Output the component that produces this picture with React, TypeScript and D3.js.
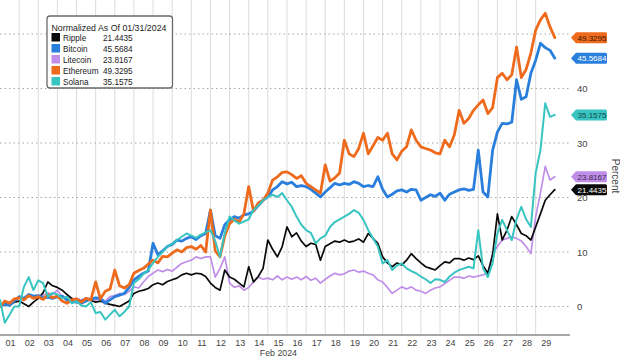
import React from "react";
import * as d3 from "d3";

const W = 620;
const H = 357;

// Series (percent change, normalized as of 01/31/2024), one value every 6 hours from Feb 1 00:00
const ethereum = [
  0, 1.0, 0.6, 1.4, 1.6, 1.2, 2.0, 1.5, 1.8, 1.3, 2.2, 1.6, 1.9, 1.0, 0.6, 1.2,
  1.4, 0.8, 1.5, 1.2, 4.5, 1.4, 2.8, 3.2, 6.7, 3.8, 3.4, 4.0, 6.1, 6.6, 7.0, 7.8,
  8.5, 8.0, 9.2, 9.1, 9.8, 10.4, 10.0, 10.8, 11.0, 10.5, 11.2, 10.0, 17.7, 10.2, 9.1, 13.0,
  15.2, 16.0, 15.5, 17.0, 22.0, 17.5, 19.0, 19.5, 20.8, 23.2, 23.8, 24.6, 24.7, 24.2, 23.5, 24.0,
  22.6, 22.0, 21.4, 20.8, 26.0, 23.0, 23.6, 24.5, 30.5, 28.0, 27.5, 29.0, 31.8, 28.0, 29.5, 31.0,
  30.5, 31.8, 28.0, 26.9, 28.5, 29.3, 32.4, 30.5, 29.3, 29.0, 28.7, 28.2, 28.0, 30.5, 29.3, 31.5,
  36.0, 33.6, 34.5, 36.0, 37.0, 37.9, 35.4, 36.5, 42.0, 42.8, 41.6, 42.5, 47.6, 42.0, 43.5, 46.5,
  50.7, 52.6, 53.8, 51.3, 49.3295,
];
const bitcoin = [
  0, 0.4, 0.2, 1.0, 1.8, 1.5, 2.2, 1.9, 2.0, 1.6, 1.7, 1.5, 1.8, 1.9, 1.2, 0.9,
  0.8, 0.6, 1.0, 1.4, 1.6, 1.5, 0.6, 1.2, 1.8, 2.1, 2.4, 3.5, 4.9, 5.5, 6.1, 6.5,
  11.6, 9.5, 10.2, 11.0, 11.4, 12.2, 12.0, 12.5, 12.8, 12.3, 13.0, 13.4, 17.7, 13.0, 12.5, 15.0,
  15.9, 16.5, 16.2, 16.8, 17.0, 17.5, 18.5, 19.5, 20.1, 21.4, 22.0, 22.9, 22.5, 22.8, 22.0, 22.2,
  22.0, 21.5, 20.8, 20.1, 21.0, 21.8, 22.6, 22.3, 22.6, 22.4, 22.9, 22.6, 22.0, 22.2, 22.0, 23.8,
  21.5, 20.1, 20.6, 21.2, 21.4, 21.0, 21.5, 21.4, 19.5, 20.0, 20.5, 20.2, 20.8, 19.5, 20.6, 21.0,
  21.4, 21.6, 21.3, 21.5, 28.7, 21.0, 20.1, 28.7, 32.0, 33.6, 33.5, 33.8, 41.6, 38.0, 38.5, 42.8,
  45.2, 48.3, 47.5, 47.0, 45.5684,
];
const solana = [
  1.2, -3.0, -1.5, 0, 0, 3.6, 5.4, 3.0, 4.8, 4.3, 1.8, 2.5, 2.2, 1.5, 1.8, 0.6,
  1.0, 0.2, 0, 0.8, -1.2, -1.0, -2.4, -1.5, -0.6, -1.8, -1.0, 0, 4.3, 5.0, 6.0, 6.7,
  8.0, 9.1, 10.0, 11.0, 11.5, 12.2, 12.8, 13.4, 13.0, 12.6, 13.2, 13.6, 14.0, 12.0, 9.1, 13.5,
  16.5, 15.8, 15.2, 15.6, 16.0, 17.7, 18.5, 19.5, 20.1, 20.5, 20.1, 20.8, 19.5, 18.3, 16.5, 15.0,
  14.0, 13.5, 11.6, 12.5, 13.0, 14.6, 15.5, 16.0, 16.5, 17.0, 17.7, 17.2, 15.9, 14.0, 12.5, 11.0,
  7.9, 8.5, 6.7, 7.5, 7.9, 7.0, 6.5, 6.1, 5.5, 5.0, 4.3, 5.0, 4.9, 4.5, 5.5, 6.2,
  6.7, 7.0, 7.3, 7.0, 14.0, 7.0, 5.4, 8.0, 13.4, 15.9, 14.0, 12.2, 16.0, 18.3, 16.0, 14.6,
  24.5, 28.7, 37.3, 34.8, 35.1575,
];
const ripple = [
  0, 0.5, 0.3, 0.8, 1.0, 0.5, 0, 0.8, 1.5, 2.5, 4.5, 3.8, 3.5, 3.0, 2.2, 1.5,
  1.2, 1.0, 1.4, 1.1, 0.8, 1.0, 0.6, 0.4, 0.2, 0, 0.5, 1.0, 2.4, 2.8, 3.0, 3.3,
  4.0, 4.3, 4.0, 4.6, 4.9, 5.2, 5.8, 6.1, 5.8, 6.1, 6.0, 5.5, 4.3, 3.5, 3.0, 6.7,
  5.4, 5.0, 4.3, 3.6, 7.3, 4.5, 5.5, 7.0, 12.2, 10.5, 9.1, 11.0, 14.6, 12.8, 13.5, 12.0,
  11.0, 11.6, 11.4, 8.5, 11.0, 11.5, 12.0, 11.8, 12.2, 11.8, 12.0, 12.4, 11.8, 13.4, 12.5, 11.6,
  9.1, 8.0, 7.3, 8.0, 7.6, 8.5, 9.7, 8.8, 8.0, 7.3, 7.0, 6.7, 7.5, 8.2, 8.0, 8.8,
  8.8, 8.5, 8.9, 8.6, 9.3, 7.5, 6.1, 9.5, 17.0, 12.2, 14.0, 16.5, 15.0, 13.4, 13.0, 12.2,
  14.6, 17.0, 19.5, 20.5, 21.4435,
];
const litecoin = [
  0, 0.8, 0.5, 1.2, 1.7, 1.4, 2.0, 1.6, 1.5, 2.0, 2.5, 2.2, 3.0, 1.8, 1.6, 1.3,
  1.5, 1.2, 1.6, 1.4, 1.2, 1.4, 1.0, 1.8, 2.0, 2.4, 2.2, 2.8, 3.6, 3.4, 4.5, 5.5,
  6.1, 6.7, 6.4, 6.8, 6.5, 7.2, 7.9, 8.2, 8.5, 9.1, 8.8, 9.1, 9.1, 5.4, 7.0, 9.1,
  4.3, 3.5, 3.8, 3.0, 3.5, 4.5, 5.4, 5.0, 5.2, 4.9, 5.6, 4.9, 5.4, 5.0, 5.4, 4.9,
  5.5, 4.8, 5.2, 4.3, 5.0, 5.6, 6.1, 5.8, 6.0, 6.5, 6.7, 6.3, 6.5, 6.1, 5.8, 4.9,
  4.5, 3.5, 2.4, 3.0, 3.6, 3.2, 3.6, 3.0, 2.8, 2.4, 3.0, 3.4, 3.6, 4.2, 4.8, 5.4,
  5.4, 5.2, 5.6, 5.4, 5.6, 5.8, 6.1, 9.7, 11.0, 12.2, 12.5, 12.8, 12.5, 12.0, 11.0, 9.7,
  16.5, 20.8, 25.7, 23.2, 23.8167,
];

const legendTitle = "Normalized As Of 01/31/2024";
const seriesNames = ["Ripple", "Bitcoin", "Litecoin", "Ethereum", "Solana"];
const seriesValues = [ripple, bitcoin, litecoin, ethereum, solana];
const lastLabels = ["21.4435", "45.5684", "23.8167", "49.3295", "35.1575"];

const dayLabels = [
  "01", "02", "03", "04", "05", "06", "07", "08", "09", "10", "11", "12", "13", "14", "15",
  "16", "17", "18", "19", "20", "21", "22", "23", "24", "25", "26", "27", "28", "29",
];
const monthLabel = "Feb 2024";
const yTicks = [0, 10, 20, 30, 40];
const yGrid = [0, 10, 20, 30, 40, 50];
const axisTitle = "Percent";

// styles (kept separate from the data)
const colors: Record<string, string> = {
  Ripple: "#0a0a0a",
  Bitcoin: "#2a7fdc",
  Litecoin: "#c08ee8",
  Ethereum: "#ee6a1c",
  Solana: "#38c4c0",
};
const widths: Record<string, number> = {
  Ripple: 1.7,
  Bitcoin: 2.8,
  Litecoin: 1.7,
  Ethereum: 2.8,
  Solana: 2.0,
};
const tagText: Record<string, string> = {
  Ripple: "#ffffff",
  Bitcoin: "#ffffff",
  Litecoin: "#3a2a48",
  Ethereum: "#3a1a08",
  Solana: "#17484a",
};
const drawOrder = ["Litecoin", "Ripple", "Bitcoin", "Ethereum", "Solana"];

const FONT = "'Liberation Sans', Arial, sans-serif";

export default function App() {
  const start = new Date(2024, 1, 1, 0, 0);
  const end = new Date(2024, 2, 1, 0, 0);
  const x = d3.scaleTime().domain([start, end]).range([0, 554.8]);
  const y = d3.scaleLinear().domain([0, 50]).range([306.5, 34]);
  const stepMs = 6 * 3600 * 1000;

  const line = d3
    .line<number>()
    .x((_, i) => x(new Date(start.getTime() + i * stepMs)))
    .y((d) => y(d))
    .curve(d3.curveLinear);

  const axisY = 335;
  const days = dayLabels.map((lab, i) => ({
    lab,
    d0: new Date(2024, 1, i + 1),
    d1: new Date(2024, 1, i + 2),
  }));

  return (
    <svg
      width={W}
      height={H}
      style={{ position: "absolute", left: 0, top: 0, background: "#fff" }}
      fontFamily={FONT}
    >
      <rect x={0} y={0} width={W} height={H} fill="#fff" />
      {/* vertical day grid */}
      {days.slice(1).map((d) => (
        <line
          key={d.lab}
          x1={x(d.d0)}
          x2={x(d.d0)}
          y1={0}
          y2={axisY}
          stroke="#dcdcdc"
          strokeWidth={1}
        />
      ))}
      {/* horizontal dotted grid */}
      {yGrid.map((v) => (
        <line
          key={v}
          x1={0}
          x2={569}
          y1={y(v)}
          y2={y(v)}
          stroke="#a8a8a8"
          strokeWidth={1}
          strokeDasharray="1.5,3"
        />
      ))}
      {/* series */}
      {drawOrder.map((name) => {
        const idx = seriesNames.indexOf(name);
        return (
          <path
            key={name}
            d={line(seriesValues[idx]) || ""}
            fill="none"
            stroke={colors[name]}
            strokeWidth={widths[name]}
            strokeLinejoin="round"
            strokeLinecap="round"
          />
        );
      })}
      {/* x axis */}
      <line x1={0} x2={570} y1={axisY} y2={axisY} stroke="#8a8a8a" strokeWidth={1.5} />
      {days.map((d) => (
        <text
          key={d.lab}
          x={(x(d.d0) + x(d.d1)) / 2 + 1}
          y={345.5}
          fontSize={9}
          fill="#444"
          textAnchor="middle"
        >
          {d.lab}
        </text>
      ))}
      <text
        x={(x(days[14].d0) + x(days[14].d1)) / 2 + 1}
        y={356}
        fontSize={8.8}
        fill="#444"
        textAnchor="middle"
      >
        {monthLabel}
      </text>
      {/* y axis labels right */}
      {yTicks.map((v) => (
        <text key={v} x={577} y={y(v) + 3.5} fontSize={9.5} fill="#444">
          {v}
        </text>
      ))}
      <text
        transform={`translate(612,176) rotate(90)`}
        fontSize={10}
        fill="#444"
        textAnchor="middle"
      >
        {axisTitle}
      </text>
      {/* last value tags */}
      {seriesNames.map((name, i) => {
        const vals = seriesValues[i];
        const cy = y(vals[vals.length - 1]);
        const h = 11;
        const xl = 571;
        const xb = 576;
        const xr = 607;
        const p = d3.path();
        p.moveTo(xl, cy);
        p.lineTo(xb, cy - h / 2);
        p.lineTo(xr - 1.5, cy - h / 2);
        p.quadraticCurveTo(xr, cy - h / 2, xr, cy - h / 2 + 1.5);
        p.lineTo(xr, cy + h / 2 - 1.5);
        p.quadraticCurveTo(xr, cy + h / 2, xr - 1.5, cy + h / 2);
        p.lineTo(xb, cy + h / 2);
        p.closePath();
        return (
          <g key={name}>
            <path d={p.toString()} fill={colors[name]} />
            <text
              x={(xb + xr) / 2 + 0.5}
              y={cy + 3}
              fontSize={8}
              fill={tagText[name]}
              textAnchor="middle"
            >
              {lastLabels[i]}
            </text>
          </g>
        );
      })}
      {/* legend */}
      <g>
        <rect
          x={47}
          y={16}
          width={125.5}
          height={72}
          rx={3}
          fill="#fff"
          stroke="#6a6a6a"
          strokeWidth={1.3}
        />
        <text x={51.5} y={30.5} fontSize={8.8} fill="#222">
          {legendTitle}
        </text>
        {seriesNames.map((name, i) => {
          const ry = 37 + i * 11;
          return (
            <g key={name}>
              <rect x={51.5} y={ry - 4} width={8.5} height={8.5} fill={colors[name]} />
              <text x={63} y={ry + 3.5} fontSize={8.2} fill="#222">
                {name}
              </text>
              <text x={103} y={ry + 3.5} fontSize={8.2} fill="#222">
                {lastLabels[i]}
              </text>
            </g>
          );
        })}
      </g>
    </svg>
  );
}
